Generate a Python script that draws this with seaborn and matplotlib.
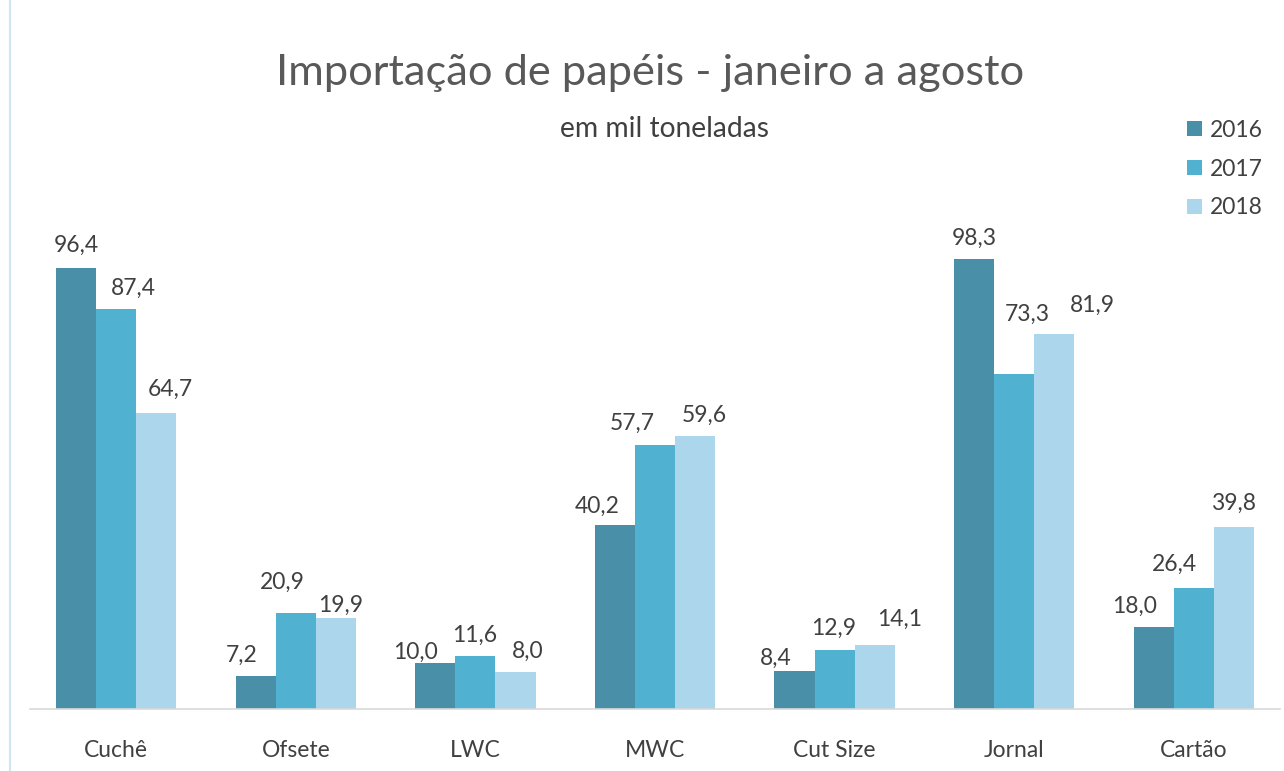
import matplotlib
matplotlib.use("Agg")
import matplotlib.pyplot as plt
from matplotlib.lines import Line2D
import seaborn as sns
import pandas as pd

categories = ["Cuchê", "Ofsete", "LWC", "MWC", "Cut Size", "Jornal", "Cartão"]
years = ["2016", "2017", "2018"]
v2016 = [96.4, 7.2, 10.0, 40.2, 8.4, 98.3, 18.0]
v2017 = [87.4, 20.9, 11.6, 57.7, 12.9, 73.3, 26.4]
v2018 = [64.7, 19.9, 8.0, 59.6, 14.1, 81.9, 39.8]
title = "Importação de papéis - janeiro a agosto"
subtitle = "em mil toneladas"

# label placement nudges (pixels), one row per year, as placed in the original
label_dx = [[0, -14, -20, -18, -19, 0, -19],
            [17, -13, -1, -23, -1, 13, -19],
            [14, 5, 12, 9, 25, 38, 0]]
label_dy = [[1, -1, -11, -3, -10, -1, -2],
            [-1, 9, -1, 0, 0, 37, 2],
            [2, -9, -1, -1, 3, 7, 2]]

rows = []
for yr, vals in zip(years, [v2016, v2017, v2018]):
    for c, v in zip(categories, vals):
        rows.append({"cat": c, "year": yr, "val": v})
df = pd.DataFrame(rows)

sns.set_style("white")
plt.rcParams["font.family"] = ["Lato", "DejaVu Sans"]
text_color = "#404040"
palette = ["#4a8fa8", "#50b1d1", "#abd6ec"]

fig = plt.figure(figsize=(12.84, 7.71), dpi=100)
ax = fig.add_axes([30/1284, 62/771, 1250/1284, 509/771])

sns.barplot(data=df, x="cat", y="val", hue="year", order=categories,
            hue_order=years, palette=palette, width=0.67, saturation=1,
            linewidth=0, edgecolor="none", ax=ax, legend=True)

ax.set_xlim(-0.48, 6.48)
ax.set_ylim(0, 111.3)
ax.set_xlabel("")
ax.set_ylabel("")
ax.set_yticks([])
for s in ["top", "right", "left"]:
    ax.spines[s].set_visible(False)
ax.spines["bottom"].set_color("#d9d9d9")
ax.spines["bottom"].set_linewidth(1.2)
ax.tick_params(axis="x", length=0, pad=22, labelsize=16.5, labelcolor=text_color)

for si, cont in enumerate(ax.containers):
    for ci, b in enumerate(cont):
        h = b.get_height()
        ax.annotate(f"{h:.1f}".replace(".", ","),
                    xy=(b.get_x() + b.get_width() / 2, h),
                    xytext=(label_dx[si][ci], 22 + label_dy[si][ci]),
                    textcoords="offset pixels", ha="center", va="center",
                    fontsize=16.5, color=text_color)

leg = ax.legend(loc="upper left", bbox_to_anchor=(1166/1284, 1 - 99/771),
                bbox_transform=fig.transFigure, frameon=False, fontsize=16.5,
                handlelength=0.66, handleheight=0.66, handletextpad=0.35,
                labelspacing=0.78, labelcolor=text_color)

fig.text(650/1284, 1 - 73/771, title, ha="center", va="center", fontsize=31.2, color="#595959")
fig.text(665/1284, 1 - 129/771, subtitle, ha="center", va="center", fontsize=20.3, color=text_color)

fig.add_artist(Line2D([10/1284, 10/1284], [0, 1], color="#cfe6f3", lw=1.5,
                      transform=fig.transFigure))

fig.savefig("out.png", dpi=100, facecolor="white")
